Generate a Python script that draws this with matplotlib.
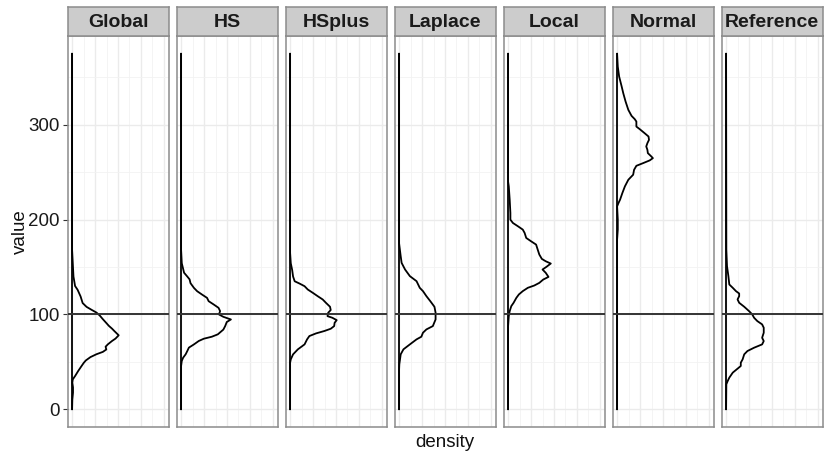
import matplotlib
matplotlib.use('Agg')
import matplotlib.pyplot as plt
from matplotlib.ticker import MultipleLocator

plt.rcParams['font.family'] = ['Liberation Sans', 'DejaVu Sans']

facets = ['Global', 'HS', 'HSplus', 'Laplace', 'Local', 'Normal', 'Reference']
value_range = [0, 375]
hline_value = 100
y_ticks = [0, 100, 200, 300]

global_val = [375, 168, 154, 140, 130, 126, 119, 112, 108, 105, 102, 99, 95, 91, 88, 85, 82.5, 78, 74.5, 72,
              68.5, 66, 63, 60.5, 58, 55, 51.5, 49, 45.5, 40.5, 35, 31.5, 28, 23, 17.5, 10, 0]
global_den = [0, 0, 0.0003, 0.0006, 0.0013, 0.0024, 0.0037, 0.0046, 0.0063, 0.0084, 0.0106, 0.0120, 0.0134,
              0.0149, 0.0160, 0.0174, 0.0184, 0.0203, 0.0189, 0.0174, 0.0156, 0.0146, 0.0149, 0.0134, 0.0106,
              0.0080, 0.0060, 0.0051, 0.0041, 0.0027, 0.0013, 0.0003, 0.0001, 0.0004, 0.0004, 0.0001, 0]

hs_val = [375, 168, 154, 151, 144, 140, 137, 133, 128, 124.5, 121, 117.5, 114, 110.5, 107, 103.5, 100, 97.5,
          94.7, 92, 87.7, 84, 79, 76.5, 74.4, 72, 68.4, 65, 61.4, 58, 54.4, 51, 45.6, 0]
hs_den = [0, 0, 0.0003, 0.0006, 0.0013, 0.0027, 0.0037, 0.0041, 0.0056, 0.0070, 0.0091, 0.0113, 0.0120, 0.0142,
          0.0163, 0.0170, 0.0165, 0.0184, 0.0217, 0.0199, 0.0192, 0.0184, 0.0160, 0.0134, 0.0099, 0.0077,
          0.0056, 0.0034, 0.0027, 0.0020, 0.0009, 0.0003, 0, 0]

hsplus_val = [375, 165, 154, 147, 140, 135, 132.6, 129.8, 126.3, 122.8, 119.3, 115.8, 112.3, 108.1, 104.6,
              101.8, 98.2, 96.5, 94, 91.2, 87.7, 84.9, 82.5, 80, 77.2, 73.7, 68.4, 63.2, 57.9, 52.6, 49, 0]
hsplus_den = [0, 0, 0.0003, 0.0009, 0.0013, 0.0020, 0.0041, 0.0063, 0.0077, 0.0099, 0.0120, 0.0142, 0.0156,
              0.0174, 0.0177, 0.0166, 0.0163, 0.0184, 0.0203, 0.0194, 0.0192, 0.0177, 0.0149, 0.0113, 0.0084,
              0.0074, 0.0063, 0.0034, 0.0013, 0.0003, 0, 0]

laplace_val = [375, 175, 161.4, 154.4, 147.4, 140.4, 135.1, 131.6, 128.1, 124.6, 119.3, 114, 108.1, 101.8,
               94.7, 87.7, 84.2, 80.7, 76.5, 73.7, 68.4, 63.2, 57.9, 52.6, 47.4, 42, 0]
laplace_den = [0, 0, 0.0007, 0.0011, 0.0026, 0.0047, 0.0076, 0.0083, 0.0090, 0.0104, 0.0119, 0.0136, 0.0154,
               0.0159, 0.0159, 0.0147, 0.0119, 0.0104, 0.0097, 0.0076, 0.0047, 0.0019, 0.0007, 0.0004,
               0.0001, 0, 0]

local_val = [375, 240, 235, 221, 207, 200, 196.5, 193, 189.5, 186, 180.7, 177.2, 173.7, 168.4, 163.2, 158.6,
             156.1, 153.7, 150.2, 147.4, 143.9, 139.6, 136.8, 133.3, 130.5, 128.1, 124.6, 121.1, 117.5, 112.3,
             108.8, 103.5, 98.2, 87.7, 0]
local_den = [0, 0, 0.0003, 0.0007, 0.0010, 0.0010, 0.0021, 0.0043, 0.0064, 0.0072, 0.0079, 0.0100, 0.0122,
             0.0129, 0.0136, 0.0147, 0.0164, 0.0186, 0.0167, 0.0150, 0.0164, 0.0176, 0.0153, 0.0136, 0.0114,
             0.0086, 0.0064, 0.0047, 0.0036, 0.0024, 0.0014, 0.0007, 0.0003, 0, 0]

normal_val = [375, 361.4, 350.9, 340.4, 333.3, 324.6, 315.8, 309.5, 306, 303.5, 298.2, 295.4, 291.2, 287.7,
              284.2, 280.7, 277.2, 273.7, 270.2, 266.7, 264.9, 262.5, 259.6, 256.8, 252.6, 247.4, 242.1,
              235.1, 228.1, 221.1, 217.5, 214, 200, 189.5, 179, 0]
normal_den = [0, 0.0003, 0.0009, 0.0020, 0.0027, 0.0037, 0.0049, 0.0063, 0.0077, 0.0084, 0.0084, 0.0099,
              0.0120, 0.0137, 0.0139, 0.0132, 0.0127, 0.0132, 0.0134, 0.0149, 0.0156, 0.0142, 0.0113, 0.0084,
              0.0074, 0.0070, 0.0049, 0.0034, 0.0023, 0.0013, 0.0006, 0, 0.0003, 0.0003, 0, 0]

reference_val = [375, 168.4, 150.9, 140.4, 131.6, 128.1, 124.6, 122.1, 119.3, 115.8, 112.3, 108.1, 103.5,
                 100, 96.5, 93, 89.5, 86, 80.7, 75.4, 71.9, 68.4, 64.9, 61.4, 57.9, 52.6, 49.1, 45.6, 42.8,
                 38.6, 33.3, 29.8, 26.3, 0]
reference_den = [0, 0.0001, 0.0004, 0.0010, 0.0014, 0.0029, 0.0043, 0.0057, 0.0057, 0.0050, 0.0057, 0.0079,
                 0.0100, 0.0114, 0.0122, 0.0136, 0.0157, 0.0164, 0.0164, 0.0157, 0.0164, 0.0157, 0.0122,
                 0.0093, 0.0079, 0.0072, 0.0064, 0.0064, 0.0050, 0.0029, 0.0014, 0.0007, 0.0001, 0]

series = [(global_val, global_den), (hs_val, hs_den), (hsplus_val, hsplus_den), (laplace_val, laplace_den),
          (local_val, local_den), (normal_val, normal_den), (reference_val, reference_den)]

W, H = 830, 461
fig = plt.figure(figsize=(W / 100, H / 100), dpi=100)


def px(x, y, w, h):
    return [x / W, 1 - (y + h) / H, w / W, h / H]


border = '#8c8c8c'
for i, name in enumerate(facets):
    x0 = 67.5 + i * 109
    ax = fig.add_axes(px(x0, 36, 101, 391))
    ax.set_xlim(-0.002, 0.042)
    ax.set_ylim(-18.75, 393.75)
    ax.xaxis.set_major_locator(MultipleLocator(0.01))
    ax.xaxis.set_minor_locator(MultipleLocator(0.005))
    ax.yaxis.set_major_locator(MultipleLocator(100))
    ax.yaxis.set_minor_locator(MultipleLocator(50))
    ax.grid(which='major', color='#ebebeb', lw=1.0, zorder=0)
    ax.grid(which='minor', color='#f2f2f2', lw=0.6, zorder=0)
    ax.set_axisbelow(True)
    vals, dens = series[i]
    ax.plot(dens, vals, color='black', lw=1.3, zorder=3, solid_joinstyle='round')
    ax.plot([0, 0], value_range, color='black', lw=1.3, zorder=3)
    ax.axhline(hline_value, color='#333333', lw=1.4, zorder=4)
    for s in ax.spines.values():
        s.set_color(border)
        s.set_linewidth(1.1)
    ax.tick_params(axis='x', which='both', length=0, labelbottom=False)
    ax.tick_params(axis='y', which='minor', length=0)
    if i == 0:
        ax.set_yticks(y_ticks)
        ax.tick_params(axis='y', which='major', length=3.5, width=0.8, color='#333333',
                       labelsize=13.5, labelcolor='#1a1a1a', pad=2)
    else:
        ax.tick_params(axis='y', which='major', length=0, labelleft=False)

    sx = fig.add_axes(px(x0, 7, 101, 29))
    sx.set_facecolor('#cccccc')
    sx.set_xticks([])
    sx.set_yticks([])
    for s in sx.spines.values():
        s.set_color(border)
        s.set_linewidth(1.1)
    sx.text(0.5, 0.48, name, transform=sx.transAxes, ha='center', va='center',
            fontsize=14, fontweight='bold', color='#1a1a1a')

fig.text(20 / W, 1 - 231.5 / H, 'value', rotation=90, ha='center', va='center', fontsize=13.5, color='#111111')
fig.text(445 / W, 1 - 442 / H, 'density', ha='center', va='center', fontsize=13.5, color='#111111')

fig.savefig('out.png', dpi=100, facecolor='white')
